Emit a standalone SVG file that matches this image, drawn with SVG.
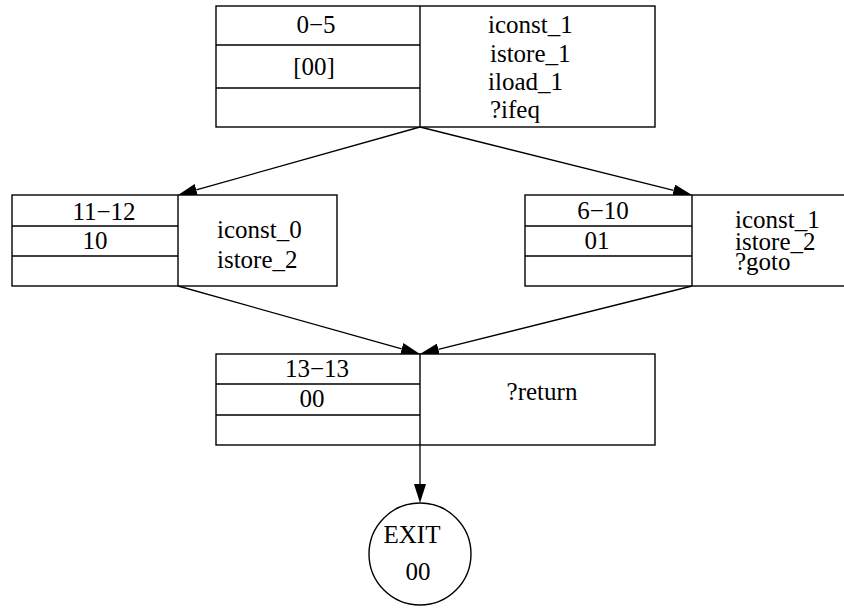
<svg xmlns="http://www.w3.org/2000/svg" width="844" height="608" viewBox="0 0 844 608">
<defs>
<style>
.box{fill:#fff;stroke:#000;stroke-width:1.4}
.ln{stroke:#000;stroke-width:1.4;fill:none}
text{font-family:"Liberation Serif","Times New Roman",serif;font-size:25px;fill:#000}
.c{text-anchor:middle}
.e{stroke:#000;stroke-width:1.3;fill:none}
</style>
<marker id="ah" markerUnits="userSpaceOnUse" markerWidth="20" markerHeight="12" refX="0" refY="6" orient="auto">
<path d="M0,0 L19,6 L0,12 z" fill="#000"/>
</marker>
</defs>
<rect width="844" height="608" fill="#fff"/>
<g id="connectors">
<path class="e" d="M420,127 L196.3,189.9" marker-end="url(#ah)"/>
<path class="e" d="M420,127 L673.6,190.4" marker-end="url(#ah)"/>
<path class="e" d="M178,286 L401.7,348.9" marker-end="url(#ah)"/>
<path class="e" d="M692,286 L438.4,349.4" marker-end="url(#ah)"/>
<path class="e" d="M420,445 L420,484" marker-end="url(#ah)"/>
</g>
<g id="node-0-5">
<rect class="box" x="216" y="6" width="439" height="121"/>
<path class="ln" d="M420,6 V127 M216,45 H420 M216,88 H420"/>
<text class="c" x="316" y="33">0−5</text>
<text class="c" x="314" y="75">[00]</text>
<text x="488" y="33">iconst_1</text>
<text x="490" y="62">istore_1</text>
<text x="488" y="90">iload_1</text>
<text x="490" y="118">?ifeq</text>
</g>
<g id="node-11-12">
<rect class="box" x="12" y="195" width="325" height="91"/>
<path class="ln" d="M178,195 V286 M12,226 H178 M12,256 H178"/>
<text class="c" x="104" y="220">11−12</text>
<text class="c" x="95" y="249">10</text>
<text x="217" y="238">iconst_0</text>
<text x="217" y="268">istore_2</text>
</g>
<g id="node-6-10">
<rect class="box" x="525" y="195" width="340" height="91"/>
<path class="ln" d="M692,195 V286 M525,226 H692 M525,256 H692"/>
<text class="c" x="603" y="219">6−10</text>
<text class="c" x="597" y="249">01</text>
<text x="735" y="228">iconst_1</text>
<text x="735" y="250">istore_2</text>
<text x="735" y="270">?goto</text>
</g>
<g id="node-13-13">
<rect class="box" x="216" y="354" width="439" height="91"/>
<path class="ln" d="M420,354 V445 M216,384 H420 M216,415 H420"/>
<text class="c" x="317" y="377">13−13</text>
<text class="c" x="312" y="407">00</text>
<text class="c" x="542" y="400">?return</text>
</g>
<g id="node-exit">
<circle class="box" cx="420" cy="554" r="51"/>
<text class="c" x="412" y="543">EXIT</text>
<text class="c" x="418" y="580">00</text>
</g>
</svg>
